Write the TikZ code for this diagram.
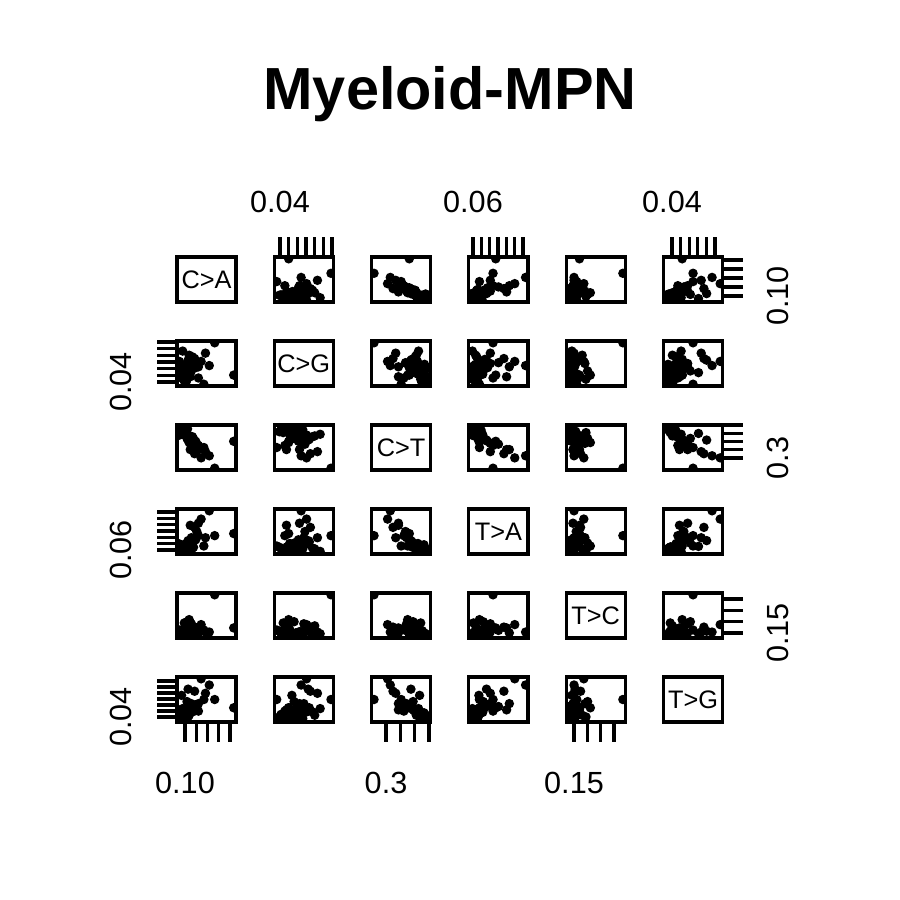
\documentclass[tikz,border=0pt]{standalone}
\usepackage{fontspec}
\setmainfont{Liberation Sans}
% one row per sample: C>A / C>G / C>T / T>A / T>C / T>G, scaled to 0..1
\def\mpndata{0.05/0.30/0.90/0.10/0.05/0.10, 0.10/0.45/0.85/0.05/0.10/0.15,
  0.15/0.20/0.95/0.00/0.02/0.05, 0.00/0.55/0.80/0.20/0.15/0.20,
  0.20/0.35/0.75/0.15/0.08/0.25, 0.08/0.10/1.00/0.05/0.00/0.00,
  0.25/0.60/0.70/0.25/0.20/0.30, 0.12/0.05/0.88/0.12/0.12/0.08,
  0.30/0.40/0.65/0.30/0.05/0.35, 0.18/0.70/0.78/0.08/0.25/0.12,
  0.03/0.25/0.92/0.18/0.03/0.18, 0.22/0.50/0.60/0.35/0.30/0.40,
  0.35/0.15/0.55/0.40/0.18/0.22, 0.06/0.80/0.82/0.02/0.06/0.28,
  0.14/0.32/0.72/0.22/0.35/0.45, 1.00/0.22/0.65/0.45/0.20/0.30,
  0.65/1.00/0.00/0.40/1.00/0.50, 0.45/0.00/0.50/0.15/0.15/0.50,
  0.28/0.62/0.35/0.60/0.22/0.70, 0.55/0.45/0.30/1.00/0.10/0.85,
  0.40/0.55/0.25/0.80/0.28/1.00, 0.02/0.38/0.98/0.06/0.01/0.02,
  0.18/0.22/0.62/0.15/0.40/0.30, 0.16/0.58/0.68/0.28/0.12/0.75,
  0.35/0.42/0.45/0.70/0.08/0.40, 0.09/0.12/0.86/0.04/0.32/0.08,
  0.24/0.66/0.76/0.10/0.04/0.20, 0.04/0.28/0.84/0.14/0.06/0.60,
  0.32/0.52/0.58/0.50/0.14/0.33, 0.13/0.08/0.94/0.09/0.07/0.14,
  0.48/0.75/0.40/0.35/0.10/0.65, 0.20/0.18/0.45/0.65/0.20/0.25,
  0.07/0.33/0.87/0.07/0.04/0.12, 0.11/0.27/0.91/0.11/0.09/0.06,
  0.04/0.42/0.83/0.16/0.11/0.22, 0.17/0.36/0.79/0.03/0.02/0.17,
  0.09/0.19/0.89/0.13/0.13/0.09, 0.21/0.29/0.73/0.19/0.06/0.24,
  0.01/0.48/0.93/0.08/0.03/0.04, 0.13/0.24/0.81/0.21/0.16/0.19,
  0.06/0.14/0.96/0.01/0.05/0.11, 0.26/0.44/0.71/0.12/0.09/0.27}
\begin{document}
\begin{tikzpicture}[x=0.01cm,y=-0.01cm,line width=0.9pt,
  panel/.style={rectangle,draw,minimum width=0.59cm,minimum height=0.45cm,inner sep=0pt},
  ticklab/.style={font=\fontsize{8.7}{10}\selectfont,inner sep=0pt},
  varlab/.style={font=\fontsize{7.2}{9}\selectfont,inner sep=0pt}]
\useasboundingbox (0,0) rectangle (900,900);

\node (title) [anchor=base,inner sep=0pt,font=\fontsize{16.9}{20}\selectfont\bfseries] at (450,110) {Myeloid-MPN};

% scatter points, clipped to each panel
\foreach \i in {1,...,6}
  \foreach \j in {1,...,6} {
    \ifnum\i=\j\else
    \pgfmathsetmacro\xo{177+97.3*(\j-1)}
    \pgfmathsetmacro\yo{257+84*(\i-1)}
    \begin{scope}
      \clip (\xo,\yo) rectangle ++(59,45);
      \foreach \a/\b/\c/\d/\e/\f in \mpndata {
        \pgfmathsetmacro\u{{\a,\b,\c,\d,\e,\f}[\j-1]}
        \pgfmathsetmacro\v{{\a,\b,\c,\d,\e,\f}[\i-1]}
        \fill (\xo+2.4+54.3*\u,\yo+43.2-41.4*\v) circle[radius=1.35pt];
      }
    \end{scope}
    \fi
  }

% panels
\foreach \i in {1,...,6}
  \foreach \j in {1,...,6}
    \node (p\i\j) [panel] at ({206.5+97.3*(\j-1)},{279.5+84*(\i-1)}) {};

\foreach \i/\lab in {1/C>A,2/C>G,3/C>T,4/T>A,5/T>C,6/T>G}
  \node [varlab] at (p\i\i) {\lab};

% top axis
\foreach \k in {0,...,6} \draw ({280+52/6*\k},257) -- ++(0,-20);
\foreach \k in {0,...,6} \draw ({473+50/6*\k},257) -- ++(0,-20);
\foreach \k in {0,...,5} \draw ({672+43/5*\k},257) -- ++(0,-20);
\node [ticklab] at (280,202) {0.04};
\node [ticklab] at (473,202) {0.06};
\node [ticklab] at (672,202) {0.04};

% right axis
\foreach \k in {0,...,4} \draw (722.5,{296-9*\k}) -- ++(20,0);
\foreach \k in {0,...,4} \draw (722.5,{458-8.25*\k}) -- ++(20,0);
\foreach \k in {0,...,3} \draw (722.5,{633-11.33*\k}) -- ++(20,0);
\node [ticklab,rotate=90] at (778,296) {0.10};
\node [ticklab,rotate=90] at (778,458) {0.3};
\node [ticklab,rotate=90] at (778,633) {0.15};

% left axis
\foreach \k in {0,...,6} \draw (177,{382-6.67*\k}) -- ++(-20,0);
\foreach \k in {0,...,6} \draw (177,{550-6.33*\k}) -- ++(-20,0);
\foreach \k in {0,...,6} \draw (177,{717-6*\k}) -- ++(-20,0);
\node [ticklab,rotate=90] at (121,382) {0.04};
\node [ticklab,rotate=90] at (121,550) {0.06};
\node [ticklab,rotate=90] at (121,717) {0.04};

% bottom axis
\foreach \k in {0,...,4} \draw ({185+11.25*\k},722) -- ++(0,20);
\foreach \k in {0,...,3} \draw ({386+14.33*\k},722) -- ++(0,20);
\foreach \k in {0,...,3} \draw ({574+13.33*\k},722) -- ++(0,20);
\node [ticklab] at (185,783) {0.10};
\node [ticklab] at (386,783) {0.3};
\node [ticklab] at (574,783) {0.15};
\end{tikzpicture}
\end{document}
